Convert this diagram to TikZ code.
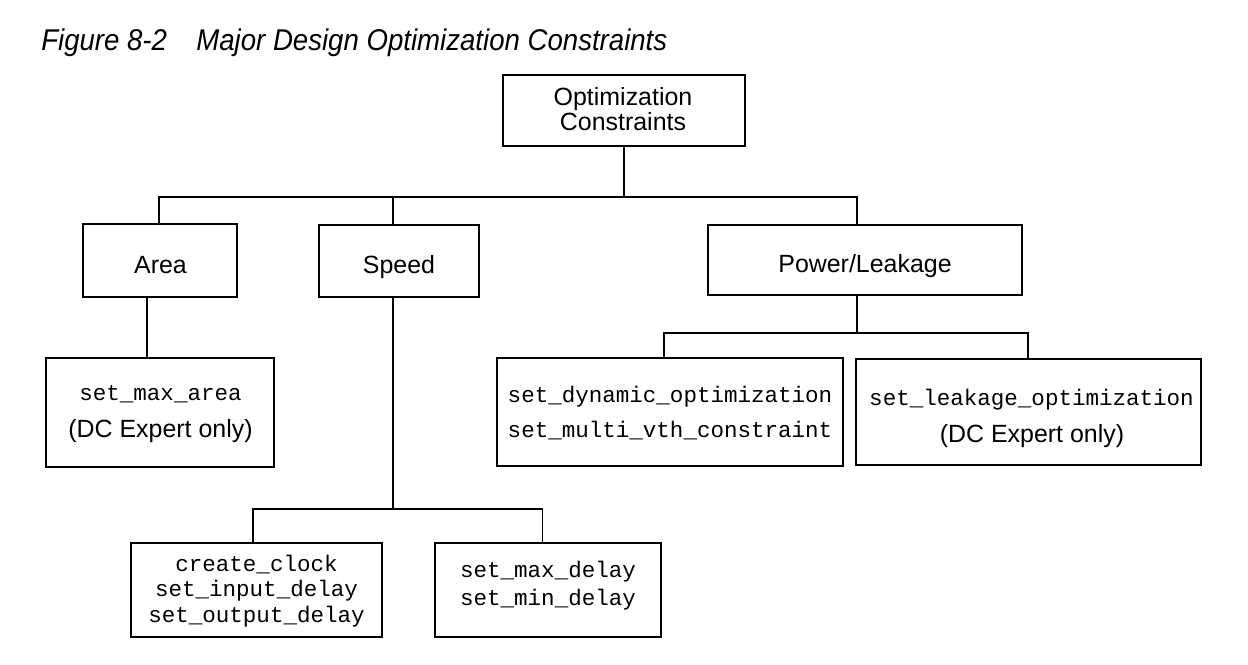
\documentclass[tikz,border=0pt]{standalone}
\usepackage{fontspec}
\setmainfont{Liberation Sans}
\newfontfamily\cmdfont{Liberation Mono}
\newfontfamily\titlefont[FakeStretch=0.92]{Liberation Sans}
\begin{document}
\begin{tikzpicture}[x=0.75pt,y=-0.75pt,
  box/.style={draw=black,line width=0.9pt,rectangle,inner sep=0pt},
  sz/.style 2 args={minimum width=#1*0.75pt,minimum height=#2*0.75pt},
  lbl/.style={font=\fontsize{18.7}{22}\selectfont,anchor=base,inner sep=0pt},
  cmd/.style={font=\cmdfont\fontsize{16.9}{20}\selectfont,anchor=base,inner sep=0pt},
  wire/.style={line width=0.9pt}]
\useasboundingbox (0,0) rectangle (1248,664);
\fill[white] (0,0) rectangle (1248,664);

\node[anchor=base west,inner sep=0pt,font=\titlefont\itshape\fontsize{22.5}{26}\selectfont] (title) at (41,50) {Figure 8-2\hspace{22pt}Major Design Optimization Constraints};

% boxes
\node[box,sz={242}{71}] (opt) at (624,110.5) {};
\node[lbl] (optt1) at (623,105) {Optimization};
\node[lbl] (optt2) at (623,130) {Constraints};

\node[box,sz={154}{73}] (area) at (160,260.5) {};
\node[lbl] (areat) at (160.5,273) {Area};
\node[box,sz={160}{72}] (speed) at (399,261) {};
\node[lbl] (speedt) at (399,273) {Speed};
\node[box,sz={314}{70}] (power) at (865,260) {};
\node[lbl] (powert) at (865,272) {Power/Leakage};

\node[box,sz={228}{109}] (maxa) at (160,412.5) {};
\node[cmd] (maxat1) at (160.5,400) {set\_max\_area};
\node[lbl] (maxat2) at (160.5,437) {(DC Expert only)};

\node[box,sz={346}{108}] (dyn) at (670,412) {};
\node[cmd] (dynt1) at (670,402) {set\_dynamic\_optimization};
\node[cmd] (dynt2) at (670,437) {set\_multi\_vth\_constraint};

\node[box,sz={345}{106}] (leak) at (1028.5,412) {};
\node[cmd] (leakt1) at (1031.5,405) {set\_leakage\_optimization};
\node[lbl] (leakt2) at (1032,442) {(DC Expert only)};

\node[box,sz={251}{94}] (clk) at (256.5,590) {};
\node[cmd] (clkt1) at (256.5,571) {create\_clock};
\node[cmd] (clkt2) at (256.5,596) {set\_input\_delay};
\node[cmd] (clkt3) at (256.5,622) {set\_output\_delay};

\node[box,sz={226}{94}] (dly) at (548,590) {};
\node[cmd] (dlyt1) at (548,577) {set\_max\_delay};
\node[cmd] (dlyt2) at (548,605) {set\_min\_delay};

% connectors
\coordinate (j1) at (624,197);
\draw[wire] (opt.south) -- (j1);
\draw[wire] (area.north -| 159,0) -- (159,197) -- (857,197) -- (power.north -| 857,0);
\draw[wire] (393,197) -- (speed.north -| 393,0);

\draw[wire] (area.south -| 147,0) -- (maxa.north -| 147,0);

\coordinate (j2) at (393,509);
\draw[wire] (speed.south -| 393,0) -- (j2);
\draw[wire] (clk.north -| 253,0) -- (253,509) -- (542.5,509) -- (dly.north -| 542.5,0);

\coordinate (j3) at (857,333);
\draw[wire] (power.south -| 857,0) -- (j3);
\draw[wire] (dyn.north -| 664,0) -- (664,333) -- (1028,333) -- (leak.north -| 1028,0);
\end{tikzpicture}
\end{document}
